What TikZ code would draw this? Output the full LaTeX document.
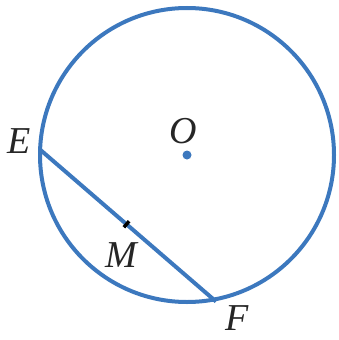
\documentclass[tikz,border=0pt]{standalone}
\usepackage{fontspec}
\setmainfont{Liberation Serif}
\usetikzlibrary{calc}
\definecolor{cblue}{RGB}{60,120,190}
\tikzset{
  lbl/.style={font=\fontsize{38}{42}\selectfont\itshape, text=black!85, inner sep=0pt},
  geo/.style={draw=cblue, line width=4pt}
}
\begin{document}
\begin{tikzpicture}[x=1pt,y=-1pt]
\useasboundingbox (0,0) rectangle (339,340);
\coordinate (O) at (187,155);
\draw[geo] (O) circle[radius=147];
\fill[cblue] (O) circle[radius=4.5];
\coordinate (E) at (40.5,150);
\coordinate (F) at (216,301.5);
\draw[geo] (E) -- (F);
\coordinate (M) at ($(E)!0.49!(F)$);
\draw[black, line width=3.5pt] ($(M)!4pt!90:(F)$) -- ($(M)!4pt!-90:(F)$);
\node[lbl] (lE) at (19,141) {E};
\node[lbl] (lO) at (183,131) {O};
\node[lbl] (lM) at (121,255) {M};
\node[lbl] (lF) at (237,318) {F};
\end{tikzpicture}
\end{document}
